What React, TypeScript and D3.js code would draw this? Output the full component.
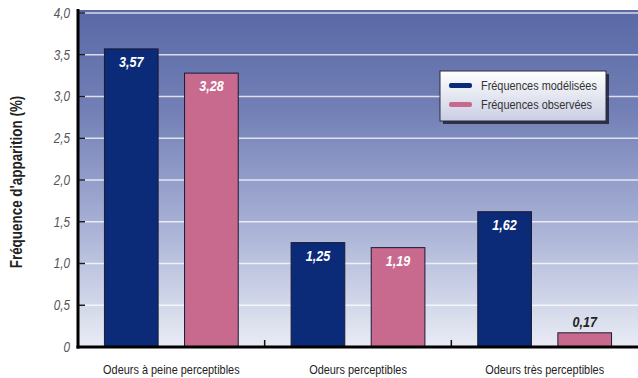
import React, { useEffect, useRef } from 'react';
import * as d3 from 'd3';

const categories = ['Odeurs à peine perceptibles', 'Odeurs perceptibles', 'Odeurs très perceptibles'];
const seriesNames = ['Fréquences modélisées', 'Fréquences observées'];
const modelled = [3.57, 1.25, 1.62];
const observed = [3.28, 1.19, 0.17];
const yTicks = [0, 0.5, 1.0, 1.5, 2.0, 2.5, 3.0, 3.5, 4.0];
const colors = ['#0b2a78', '#c86a8e'];

const fmt = (v: number) => (v === 0 ? '0' : d3.format('.1f')(v).replace('.', ','));
const fmtVal = (v: number) => d3.format('.2f')(v).replace('.', ',');

const W = 638;
const H = 378;
const margin = { top: 13, right: 0, bottom: 31, left: 78 };
const font = '"Liberation Sans", Arial, sans-serif';
const squeeze = 0.84; // fake a condensed face

const App: React.FC = () => {
  const svgRef = useRef<SVGSVGElement>(null);

  useEffect(() => {
    if (!svgRef.current) return;
    const svg = d3.select(svgRef.current);
    svg.selectAll('*').remove();

    const width = W - margin.left - margin.right;
    const height = H - margin.top - margin.bottom;

    const defs = svg.append('defs');
    const bg = defs.append('linearGradient').attr('id', 'bg').attr('x1', 0).attr('y1', 0).attr('x2', 0).attr('y2', 1);
    bg.append('stop').attr('offset', '0%').attr('stop-color', '#5a69a6');
    bg.append('stop').attr('offset', '30%').attr('stop-color', '#7380b6');
    bg.append('stop').attr('offset', '60%').attr('stop-color', '#a1abd2');
    bg.append('stop').attr('offset', '100%').attr('stop-color', '#e9ecf5');
    const lg = defs.append('linearGradient').attr('id', 'lg').attr('x1', 0).attr('y1', 0).attr('x2', 0).attr('y2', 1);
    lg.append('stop').attr('offset', '0%').attr('stop-color', '#ffffff');
    lg.append('stop').attr('offset', '100%').attr('stop-color', '#c9cee3');

    const g = svg.append('g').attr('transform', `translate(${margin.left},${margin.top})`);

    const y = d3.scaleLinear().domain([0, 4]).range([height, 0]);
    const x0 = d3.scaleBand<string>().domain(categories).range([0, width]).padding(0);
    const x1 = d3.scaleBand<string>().domain(seriesNames).range([0, x0.bandwidth()]).padding(0.33);

    // background
    g.append('rect').attr('x', 0).attr('y', -3).attr('width', width).attr('height', height + 3).attr('fill', 'url(#bg)');

    // gridlines
    g.selectAll('.grid')
      .data(yTicks.filter(t => t > 0))
      .enter()
      .append('line')
      .attr('x1', 0)
      .attr('x2', width)
      .attr('y1', d => y(d))
      .attr('y2', d => y(d))
      .attr('stroke', '#ffffff')
      .attr('stroke-opacity', 0.75)
      .attr('stroke-width', 1.5);

    // small dark ticks on the y axis
    g.selectAll('.ytick')
      .data(yTicks)
      .enter()
      .append('line')
      .attr('x1', 0)
      .attr('x2', 7)
      .attr('y1', d => y(d))
      .attr('y2', d => y(d))
      .attr('stroke', '#1a1a2a')
      .attr('stroke-width', 1.5);

    // tick labels
    g.selectAll('.ylabel')
      .data(yTicks)
      .enter()
      .append('text')
      .attr('transform', d => `translate(-8,${y(d)}) scale(${squeeze},1)`)
      .attr('dy', '0.35em')
      .attr('text-anchor', 'end')
      .attr('font-family', font)
      .attr('font-style', 'italic')
      .attr('font-size', 14)
      .attr('fill', '#555')
      .text(d => fmt(d));

    const data = categories.map((c, i) => ({ cat: c, values: [modelled[i], observed[i]] }));

    const groups = g.selectAll('.grp')
      .data(data)
      .enter()
      .append('g')
      .attr('transform', d => `translate(${x0(d.cat)},0)`);

    groups.selectAll('rect')
      .data(d => d.values.map((v, j) => ({ v, j })))
      .enter()
      .append('rect')
      .attr('x', d => x1(seriesNames[d.j]) || 0)
      .attr('y', d => y(d.v))
      .attr('width', x1.bandwidth())
      .attr('height', d => height - y(d.v))
      .attr('fill', d => colors[d.j])
      .attr('stroke', '#1a1a33')
      .attr('stroke-width', 1);

    const small = (v: number) => height - y(v) < 30;
    groups.selectAll('.val')
      .data(d => d.values.map((v, j) => ({ v, j })))
      .enter()
      .append('text')
      .attr('transform', d => {
        const cx = (x1(seriesNames[d.j]) || 0) + x1.bandwidth() / 2;
        const cy = small(d.v) ? y(d.v) - 6 : y(d.v) + 18;
        return `translate(${cx},${cy}) scale(${squeeze},1)`;
      })
      .attr('text-anchor', 'middle')
      .attr('font-family', font)
      .attr('font-style', 'italic')
      .attr('font-weight', 'bold')
      .attr('font-size', 15)
      .attr('fill', d => (small(d.v) ? '#222' : '#ffffff'))
      .text(d => fmtVal(d.v));

    // category separators
    g.selectAll('.sep')
      .data(categories.slice(1))
      .enter()
      .append('line')
      .attr('x1', d => x0(d) || 0)
      .attr('x2', d => x0(d) || 0)
      .attr('y1', height)
      .attr('y2', height - 7)
      .attr('stroke', '#111')
      .attr('stroke-width', 1.5);

    // axes lines
    g.append('line').attr('x1', 0).attr('x2', 0).attr('y1', -4).attr('y2', height + 1.5).attr('stroke', '#000').attr('stroke-width', 3);
    g.append('line').attr('x1', -1.5).attr('x2', width).attr('y1', height).attr('y2', height).attr('stroke', '#000').attr('stroke-width', 3);

    // category labels
    g.selectAll('.cat')
      .data(categories)
      .enter()
      .append('text')
      .attr('transform', d => `translate(${(x0(d) || 0) + x0.bandwidth() / 2},${height + 27}) scale(${squeeze},1)`)
      .attr('text-anchor', 'middle')
      .attr('font-family', font)
      .attr('font-size', 13)
      .attr('fill', '#222')
      .text(d => d);

    // y axis title
    svg.append('text')
      .attr('transform', `translate(22,${margin.top + height / 2 + 2}) rotate(-90) scale(${squeeze},1)`)
      .attr('text-anchor', 'middle')
      .attr('font-family', font)
      .attr('font-weight', 'bold')
      .attr('font-size', 16)
      .attr('fill', '#222')
      .text("Fréquence d'apparition (%)");

    // legend
    const leg = svg.append('g').attr('transform', 'translate(440,71)');
    leg.append('rect').attr('x', 3).attr('y', 3).attr('width', 166).attr('height', 50).attr('fill', '#1a1a2a').attr('opacity', 0.8);
    leg.append('rect').attr('x', 0).attr('y', 0).attr('width', 166).attr('height', 50).attr('fill', 'url(#lg)').attr('stroke', '#2a2a44').attr('stroke-width', 1);
    seriesNames.forEach((s, i) => {
      leg.append('rect')
        .attr('x', 9)
        .attr('y', 12 + i * 19)
        .attr('width', 23)
        .attr('height', 5)
        .attr('rx', 2)
        .attr('fill', colors[i]);
      leg.append('text')
        .attr('transform', `translate(41,${14.5 + i * 19}) scale(${squeeze},1)`)
        .attr('dy', '0.35em')
        .attr('font-family', font)
        .attr('font-size', 13)
        .attr('fill', '#333')
        .text(s);
    });
  }, []);

  return (
    <svg
      ref={svgRef}
      width={W}
      height={H}
      style={{ position: 'absolute', left: 0, top: 0, background: '#ffffff' }}
    />
  );
};

export default App;
